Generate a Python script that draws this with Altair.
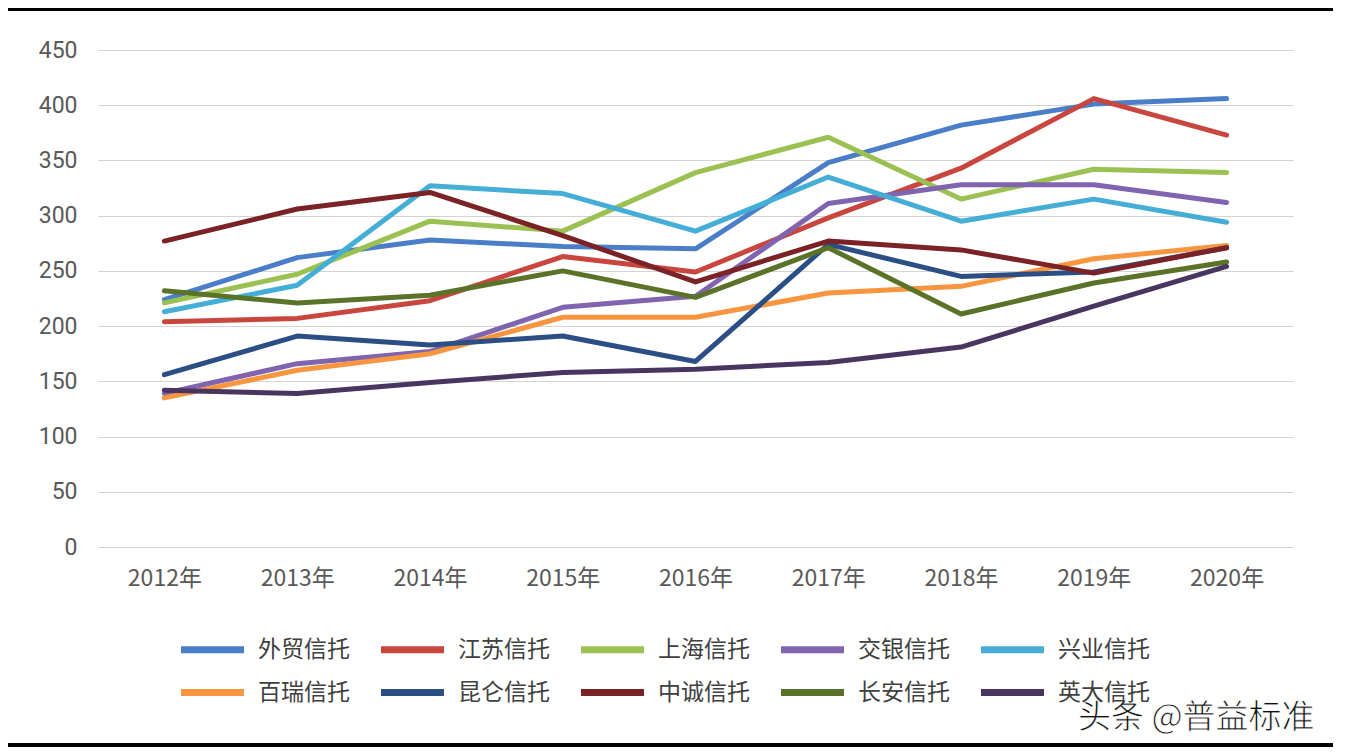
import altair as alt
import pandas as pd

years = ["2012年", "2013年", "2014年", "2015年", "2016年", "2017年", "2018年", "2019年", "2020年"]
series_names = ["外贸信托", "江苏信托", "上海信托", "交银信托", "兴业信托",
                "百瑞信托", "昆仑信托", "中诚信托", "长安信托", "英大信托"]
colors = ["#4A7EC9", "#C9463F", "#9BC152", "#8064B0", "#45AED6",
          "#F7963F", "#2B4F85", "#7A2226", "#5B7329", "#493660"]

waimao   = [224, 262, 278, 272, 270, 348, 382, 401, 406]
jiangsu  = [204, 207, 223, 263, 249, 298, 343, 406, 373]
shanghai = [221, 247, 295, 286, 339, 371, 315, 342, 339]
jiaoyin  = [139, 166, 177, 217, 227, 311, 328, 328, 312]
xingye   = [213, 237, 327, 320, 286, 335, 295, 315, 294]
bairui   = [135, 160, 175, 208, 208, 230, 236, 261, 273]
kunlun   = [156, 191, 183, 191, 168, 274, 245, 249, 271]
zhongcheng = [277, 306, 321, 282, 240, 277, 269, 248, 271]
changan  = [232, 221, 228, 250, 226, 271, 211, 239, 258]
yingda   = [142, 139, 149, 158, 161, 167, 181, 218, 254]

all_series = [waimao, jiangsu, shanghai, jiaoyin, xingye,
              bairui, kunlun, zhongcheng, changan, yingda]

rows = []
for name, vals in zip(series_names, all_series):
    for y, v in zip(years, vals):
        rows.append({"series": name, "year": y, "value": v})
df = pd.DataFrame(rows)

FONT = "Noto Sans CJK SC"

lines = alt.Chart(df).mark_line(strokeWidth=5, strokeCap="round", strokeJoin="round").encode(
    x=alt.X("year:N", sort=years, title=None,
            scale=alt.Scale(type="point", padding=0.5),
            axis=alt.Axis(labelAngle=0, labelFontSize=23, labelColor="#595959",
                          labelFont=FONT, ticks=False, domain=False, grid=False,
                          labelPadding=20)),
    y=alt.Y("value:Q", title=None,
            scale=alt.Scale(domain=[0, 450], nice=False),
            axis=alt.Axis(values=list(range(0, 451, 50)), labelFontSize=23,
                          labelColor="#595959", labelFont="Roboto", ticks=False,
                          domain=False, gridColor="#D4D4D4", gridWidth=1.2,
                          labelPadding=21)),
    color=alt.Color("series:N", sort=series_names,
                    scale=alt.Scale(domain=series_names, range=colors),
                    legend=alt.Legend(title=None, orient="none", legendX=80, legendY=575,
                                      columns=5, direction="horizontal",
                                      symbolType="M-1.5,0H1.5",
                                      symbolSize=1764, symbolStrokeWidth=7,
                                      symbolOffset=10,
                                      labelFontSize=23, labelFont=FONT,
                                      labelColor="#404040", labelOffset=21,
                                      columnPadding=17, rowPadding=4,
                                      labelLimit=200)),
)

top_rule = alt.Chart(df).mark_rule(color="black", strokeWidth=2.5).encode(
    x=alt.value(-90), x2=alt.value(1242), y=alt.value(-41))
bottom_rule = alt.Chart(df).mark_rule(color="black", strokeWidth=2.5).encode(
    x=alt.value(-90), x2=alt.value(1242), y=alt.value(695))

watermark = alt.Chart(pd.DataFrame({"t": ["头条 @普益标准"]})).mark_text(
    fontSize=33, font=FONT, color="#111111", align="left", baseline="middle",
    stroke="white", strokeWidth=0.8
).encode(text="t:N", x=alt.value(980), y=alt.value(668))

chart = alt.layer(lines, top_rule, bottom_rule, watermark).properties(
    width=1195, height=497,
    autosize=alt.AutoSizeParams(type="none"),
    padding={"left": 90, "top": 42, "right": 40, "bottom": 200},
    background="white",
).configure_view(stroke=None)

chart.save("out.html", embed_options={"renderer": "svg", "actions": False})
